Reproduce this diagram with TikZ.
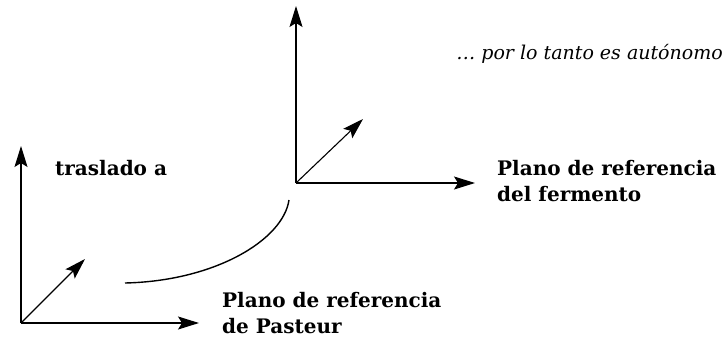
\documentclass[tikz,border=0pt]{standalone}
\usepackage{fontspec}
\setmainfont{DejaVu Serif}
\usepackage{tikz}
\usetikzlibrary{arrows.meta,positioning,calc}
\newcommand\framefont{\bfseries\fontsize{20}{26}\selectfont}
\newcommand\remarkfont{\itshape\fontsize{19}{22}\selectfont}
\tikzset{axis/.style={ % Sets the properties for each axis of a frame
            draw,
            -{Stealth[length=21pt,width=13pt,inset=4pt]}, % Long filled arrow heads
            line width=1.1pt},
        bendline/.style={ % The curved link between the two frames
            draw,
            line width=1.4pt},
        framename/.style={ % Bold text next to a frame
            font=\framefont,
            align=left,
            inner sep=0pt},
        remark/.style={ % Italic remark at the top
            font=\remarkfont,
            inner sep=0pt}
        }

\begin{document}
\begin{tikzpicture}[x=1pt,y=-1pt]
    \useasboundingbox (0,0) rectangle (728,346);

    % Pasteur's frame
    \coordinate (o1) at (21,323);
    \coordinate (x1) at (199,323);
    \coordinate (y1) at (21,146);
    \coordinate (z1) at (85,259);

    % the ferment's frame
    \coordinate (o2) at (296,183);
    \coordinate (x2) at (475,183);
    \coordinate (y2) at (296,6);
    \coordinate (z2) at (363,119);

    \coordinate (c1) at (125,283);
    \coordinate (c2) at (289,200);

    \draw
        (o1)
            edge[axis] (x1)
            edge[axis] (y1)
            edge[axis] (z1)
        (o2)
            edge[axis] (x2)
            edge[axis] (y2)
            edge[axis] (z2);

    \draw[bendline] (c1) .. controls (215,281) and (283,240) .. (c2);

    \node[framename, anchor=west]       (trasl)   at (55,168)  {traslado a};
    \node[framename, anchor=north west] (pasteur) at (222,292) {Plano de referencia\\de Pasteur};
    \node[framename, anchor=north west] (ferm)    at (497,160) {Plano de referencia\\del fermento};
    \node[remark, anchor=base east]     (auto)    at (723,59)  {\dots\ por lo tanto es autónomo};
\end{tikzpicture}
\end{document}
